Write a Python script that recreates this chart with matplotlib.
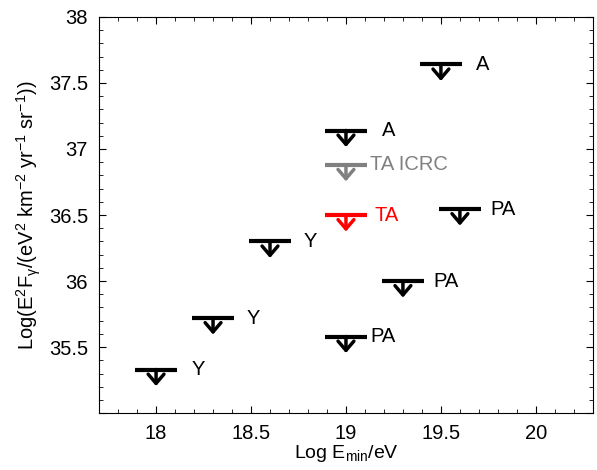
import matplotlib
matplotlib.use('Agg')
import matplotlib.pyplot as plt
from matplotlib.ticker import MultipleLocator

plt.rcParams['font.family'] = ['Liberation Sans', 'DejaVu Sans']
plt.rcParams['mathtext.fontset'] = 'custom'
plt.rcParams['mathtext.rm'] = 'Liberation Sans'
plt.rcParams['mathtext.default'] = 'regular'

# upper limits: log Emin, log E^2 F, label, colour
log_emin = [18.0, 18.3, 18.6, 19.0, 19.5, 19.0, 19.0, 19.6, 19.3, 19.0]
log_flux = [35.33, 35.72, 36.30, 37.14, 37.64, 36.88, 36.50, 36.545, 36.00, 35.58]
labels = ['Y', 'Y', 'Y', 'A', 'A', 'TA ICRC', 'TA', 'PA', 'PA', 'PA']
colors = ['black', 'black', 'black', 'black', 'black', '#808080', 'red', 'black', 'black', 'black']

# gap between bar end and label text (pixels)
label_gap = [15, 13, 13, 15, 14, 3, 8, 10, 10, 4]

fig = plt.figure(figsize=(5.97, 4.70), dpi=100)
ax = fig.add_axes([0.166, 0.121, 0.827, 0.843])

half = 0.11
for x, y, lab, c, gap in zip(log_emin, log_flux, labels, colors, label_gap):
    ax.plot([x - half, x + half], [y, y], color=c, lw=3, solid_capstyle='butt')
    ax.annotate('', xy=(x, y - 0.125), xytext=(x, y),
                arrowprops=dict(arrowstyle='->,head_width=0.3,head_length=0.35',
                                color=c, lw=2.5, shrinkA=0, shrinkB=0,
                                mutation_scale=19))
    ax.annotate(lab, xy=(x + half, y), xytext=(gap * 0.72, 0),
                textcoords='offset points', va='center', ha='left',
                color=c, fontsize=14.5)

ax.set_xlim(17.7, 20.3)
ax.set_ylim(35, 38)
ax.xaxis.set_major_locator(MultipleLocator(0.5))
ax.xaxis.set_minor_locator(MultipleLocator(0.1))
ax.yaxis.set_major_locator(MultipleLocator(0.5))
ax.yaxis.set_minor_locator(MultipleLocator(0.1))
ax.xaxis.set_major_formatter(plt.FuncFormatter(lambda v, p: f'{v:g}'))
ax.yaxis.set_major_formatter(plt.FuncFormatter(lambda v, p: f'{v:g}' if v > 35.01 else ''))
ax.tick_params(which='both', direction='in', top=True, right=True, labelsize=14.5)
ax.tick_params(which='major', length=5, pad=8)
ax.tick_params(which='minor', length=3)

ax.set_xlabel('Log E$_{min}$/eV', fontsize=14, labelpad=0)
ax.set_ylabel('Log(E$^2$F$_\\gamma$/(eV$^2$ km$^{-2}$ yr$^{-1}$ sr$^{-1}$))', fontsize=14.5, labelpad=4)

fig.savefig('out.png', dpi=100)
